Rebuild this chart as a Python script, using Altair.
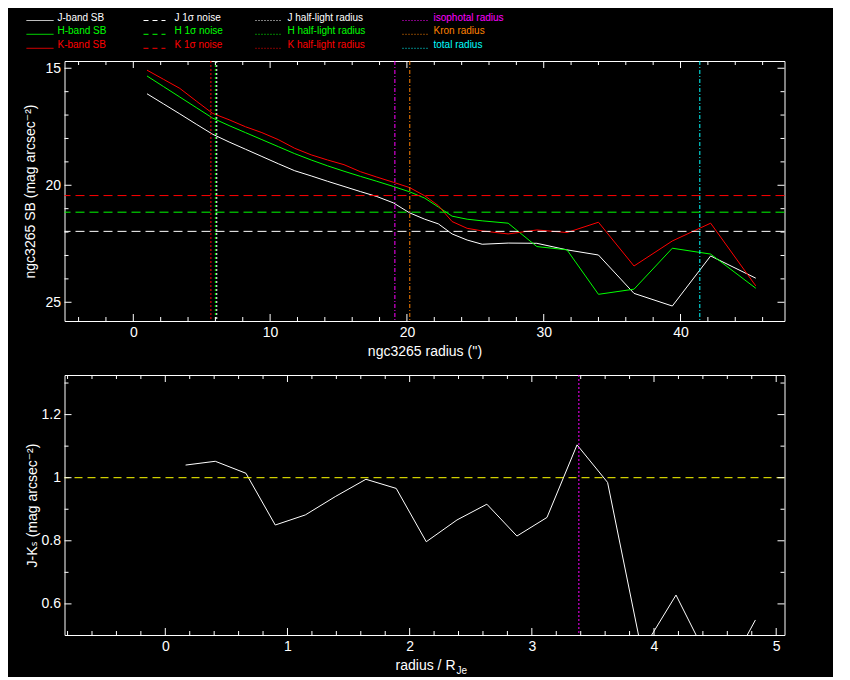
import altair as alt
import pandas as pd

# ---------------- data ----------------
RADIUS = [1.0, 2.2, 3.4, 4.6, 5.8, 7.0, 8.2, 9.4, 10.6, 11.8, 13.0, 14.2, 15.4, 16.6,
          17.8, 19.0, 20.2, 21.3, 22.3, 23.3, 24.4, 25.5, 27.4, 29.5, 31.7, 34.0,
          36.6, 39.4, 42.2, 45.5]
J_SB = [16.09, 16.52, 16.95, 17.39, 17.82, 18.15, 18.46, 18.77, 19.08, 19.38, 19.60,
        19.83, 20.05, 20.27, 20.48, 20.75, 21.18, 21.45, 21.65, 22.08, 22.34, 22.52,
        22.47, 22.48, 22.76, 22.98, 24.62, 25.16, 23.02, 23.97]
H_SB = [15.33, 15.78, 16.23, 16.68, 17.13, 17.45, 17.75, 18.05, 18.35, 18.65, 18.92,
        19.17, 19.40, 19.62, 19.83, 20.05, 20.28, 20.55, 20.93, 21.32, 21.45, 21.52,
        21.62, 22.62, 22.76, 24.66, 24.44, 22.69, 22.94, 24.40]
K_SB = [15.08, 15.47, 15.86, 16.40, 16.93, 17.20, 17.50, 17.75, 18.05, 18.42, 18.70,
        18.92, 19.12, 19.42, 19.65, 19.87, 20.10, 20.45, 20.87, 21.55, 21.84, 21.95,
        22.08, 21.91, 22.02, 21.58, 23.45, 22.38, 21.62, 24.30]

NOISE = [21.97, 21.15, 20.44]            # J, H, K 1-sigma noise
HALF_LIGHT = [6.10, 6.00, 5.67]          # J, H, K half-light radius
R_ISO, R_KRON, R_TOT = 19.12, 20.21, 41.41

R_NORM = [0.166, 0.409, 0.660, 0.900, 1.146, 1.391, 1.642, 1.890, 2.136, 2.387,
          2.632, 2.878, 3.124, 3.370, 3.620, 3.900, 4.180, 4.450, 4.650, 4.830]
J_K = [1.040, 1.052, 1.014, 0.850, 0.882, 0.940, 0.995, 0.966, 0.797, 0.866,
       0.916, 0.815, 0.874, 1.104, 0.985, 0.450, 0.628, 0.420, 0.420, 0.549]
JK_REF = 1.0
R_ISO_NORM = 3.385

TOP_X_MAJOR = [0, 10, 20, 30, 40]
TOP_X_MINOR = [-4, -2, 2, 4, 6, 8, 12, 14, 16, 18, 22, 24, 26, 28, 32, 34, 36, 38, 42, 44, 46]
TOP_Y_MAJOR = [15, 20, 25]
TOP_Y_MINOR = [16, 17, 18, 19, 21, 22, 23, 24]
BOT_X_MAJOR = [0, 1, 2, 3, 4, 5]
BOT_X_MINOR = [-0.8, -0.6, -0.4, -0.2, 0.2, 0.4, 0.6, 0.8, 1.2, 1.4, 1.6, 1.8, 2.2, 2.4,
               2.6, 2.8, 3.2, 3.4, 3.6, 3.8, 4.2, 4.4, 4.6, 4.8]
BOT_Y_MAJOR = [0.6, 0.8, 1.0, 1.2]
BOT_Y_MINOR = [0.7, 0.9, 1.1, 1.3]

LEG_LABELS = [["J-band SB", "H-band SB", "K-band SB"],
              ["J 1σ noise", "H 1σ noise", "K 1σ noise"],
              ["J half-light radius", "H half-light radius", "K half-light radius"],
              ["isophotal radius", "Kron radius", "total radius"]]

# ---------------- styles / layout ----------------
WHITE, GREEN, RED = "#ffffff", "#00ff00", "#ff0000"
MAGENTA, ORANGE, CYAN, YELLOW = "#ff00ff", "#ff8000", "#00ffff", "#ffff00"
BAND_COLORS = [WHITE, GREEN, RED]
LEG_COLORS = [BAND_COLORS, BAND_COLORS, BAND_COLORS, [MAGENTA, ORANGE, CYAN]]
LEG_DASH = [[1, 0], [5, 4], [1, 2], [1, 2]]
LEG_X0 = [-38, 79, 191, 338]
LEG_X1 = [-11, 101, 216, 363]
LEG_XT = [-7, 110, 223, 369]
LEG_Y = [-40.5, -26.7, -12.7]

FONT = "Liberation Sans, DejaVu Sans, sans-serif"
W, H = 720, 260
MAJ, MIN = 7, 4

xs_top = alt.Scale(domain=[-5.03, 47.6], nice=False, zero=False)
ys_top = alt.Scale(domain=[14.69, 25.8], reverse=True, nice=False, zero=False)
xs_bot = alt.Scale(domain=[-0.825, 5.068], nice=False, zero=False)
ys_bot = alt.Scale(domain=[0.5014, 1.3255], nice=False, zero=False)


def tick_layer(values, ch, side, length, scale):
    df = pd.DataFrame({"v": values})
    base = alt.Chart(df).mark_rule(color="white", strokeWidth=1)
    if ch == "x":
        enc = dict(x=alt.X("v:Q", scale=scale))
        if side == "bottom":
            enc.update(y=alt.value(H), y2=alt.value(H - length))
        else:
            enc.update(y=alt.value(0), y2=alt.value(length))
    else:
        enc = dict(y=alt.Y("v:Q", scale=scale))
        if side == "left":
            enc.update(x=alt.value(0), x2=alt.value(length))
        else:
            enc.update(x=alt.value(W), x2=alt.value(W - length))
    return base.encode(**enc)


def frame_ticks(xmaj, xmin, ymaj, ymin, xs, ys):
    out = []
    for side in ("bottom", "top"):
        out.append(tick_layer(xmaj, "x", side, MAJ, xs))
        out.append(tick_layer(xmin, "x", side, MIN, xs))
    for side in ("left", "right"):
        out.append(tick_layer(ymaj, "y", side, MAJ, ys))
        out.append(tick_layer(ymin, "y", side, MIN, ys))
    return out


# ---------------- top panel ----------------
n = len(RADIUS)
sb_df = pd.DataFrame({
    "r": RADIUS * 3,
    "sb": J_SB + H_SB + K_SB,
    "band": ["J"] * n + ["H"] * n + ["K"] * n,
    "c": [WHITE] * n + [GREEN] * n + [RED] * n,
})

sb_lines = alt.Chart(sb_df).mark_line(strokeWidth=1).encode(
    x=alt.X("r:Q", scale=xs_top,
            axis=alt.Axis(title="ngc3265 radius ('')", values=TOP_X_MAJOR, format="d")),
    y=alt.Y("sb:Q", scale=ys_top,
            axis=alt.Axis(title="ngc3265 SB (mag arcsec⁻²)", values=TOP_Y_MAJOR, format="d",
                          titlePadding=7)),
    color=alt.Color("c:N", scale=None),
    detail="band:N",
)

noise = alt.Chart(pd.DataFrame({"v": NOISE, "c": BAND_COLORS})).mark_rule(
    strokeWidth=1, strokeDash=[9, 5]).encode(
    y=alt.Y("v:Q", scale=ys_top), color=alt.Color("c:N", scale=None))

half = alt.Chart(pd.DataFrame({"v": HALF_LIGHT, "c": BAND_COLORS})).mark_rule(
    strokeWidth=1, strokeDash=[2, 2]).encode(
    x=alt.X("v:Q", scale=xs_top), color=alt.Color("c:N", scale=None))

radii = alt.Chart(pd.DataFrame({"v": [R_ISO, R_KRON, R_TOT], "c": [MAGENTA, ORANGE, CYAN]})).mark_rule(
    strokeWidth=1, strokeDash=[4, 2, 1, 2]).encode(
    x=alt.X("v:Q", scale=xs_top), color=alt.Color("c:N", scale=None))

leg_layers = []
for ci in range(4):
    ldf = pd.DataFrame({
        "x0": [LEG_X0[ci]] * 3, "x1": [LEG_X1[ci]] * 3, "xt": [LEG_XT[ci]] * 3,
        "y": LEG_Y, "label": LEG_LABELS[ci], "c": LEG_COLORS[ci],
    })
    leg_layers.append(alt.Chart(ldf).mark_rule(strokeWidth=1, strokeDash=LEG_DASH[ci]).encode(
        x=alt.X("x0:Q", scale=None), x2="x1:Q",
        y=alt.Y("y:Q", scale=None), color=alt.Color("c:N", scale=None)))
    leg_layers.append(alt.Chart(ldf).mark_text(
        align="left", baseline="alphabetic", font=FONT, fontSize=10).encode(
        x=alt.X("xt:Q", scale=None), y=alt.Y("y:Q", scale=None),
        text="label:N", color=alt.Color("c:N", scale=None)))

top = alt.layer(
    sb_lines, noise, half, radii,
    *frame_ticks(TOP_X_MAJOR, TOP_X_MINOR, TOP_Y_MAJOR, TOP_Y_MINOR, xs_top, ys_top),
    *leg_layers,
).properties(width=W, height=H)

# ---------------- bottom panel ----------------
jk_df = pd.DataFrame({"r": R_NORM, "jk": J_K})
jk_line = alt.Chart(jk_df).mark_line(strokeWidth=1, color=WHITE, clip=True).encode(
    x=alt.X("r:Q", scale=xs_bot, axis=alt.Axis(title=None, values=BOT_X_MAJOR, format="d")),
    y=alt.Y("jk:Q", scale=ys_bot,
            axis=alt.Axis(title="J-Kₛ (mag arcsec⁻²)", values=BOT_Y_MAJOR,
                          labelExpr="format(datum.value, '.2~f')", titlePadding=2)),
)
ref = alt.Chart(pd.DataFrame({"v": [JK_REF]})).mark_rule(
    strokeWidth=1, strokeDash=[8, 5], color=YELLOW).encode(
    y=alt.Y("v:Q", scale=ys_bot))
iso2 = alt.Chart(pd.DataFrame({"v": [R_ISO_NORM]})).mark_rule(
    strokeWidth=1, strokeDash=[2, 2], color=MAGENTA).encode(
    x=alt.X("v:Q", scale=xs_bot))

xt_main = alt.Chart(pd.DataFrame({"t": ["radius / R"]})).mark_text(
    align="right", baseline="alphabetic", font=FONT, fontSize=14, color="white").encode(
    text="t:N", x=alt.value(391), y=alt.value(295))
xt_sub = alt.Chart(pd.DataFrame({"t": ["Je"]})).mark_text(
    align="left", baseline="alphabetic", font=FONT, fontSize=10, color="white").encode(
    text="t:N", x=alt.value(392), y=alt.value(299))

bottom = alt.layer(
    jk_line, ref, iso2,
    *frame_ticks(BOT_X_MAJOR, BOT_X_MINOR, BOT_Y_MAJOR, BOT_Y_MINOR, xs_bot, ys_bot),
    xt_main, xt_sub,
).properties(width=W, height=H)

chart = alt.vconcat(top, bottom, spacing=15).properties(
    background="black",
    padding={"left": 14.5, "top": 4, "right": 47.5, "bottom": 0},
).configure_view(stroke="white", strokeWidth=1).configure_axis(
    ticks=False, tickSize=0, domain=False, grid=False,
    labelColor="white", titleColor="white",
    labelFont=FONT, titleFont=FONT, labelFontSize=14, titleFontSize=14,
    titleFontWeight="normal", labelPadding=4, titlePadding=5,
)

chart.save("out.html", embed_options={"renderer": "svg", "actions": False})
